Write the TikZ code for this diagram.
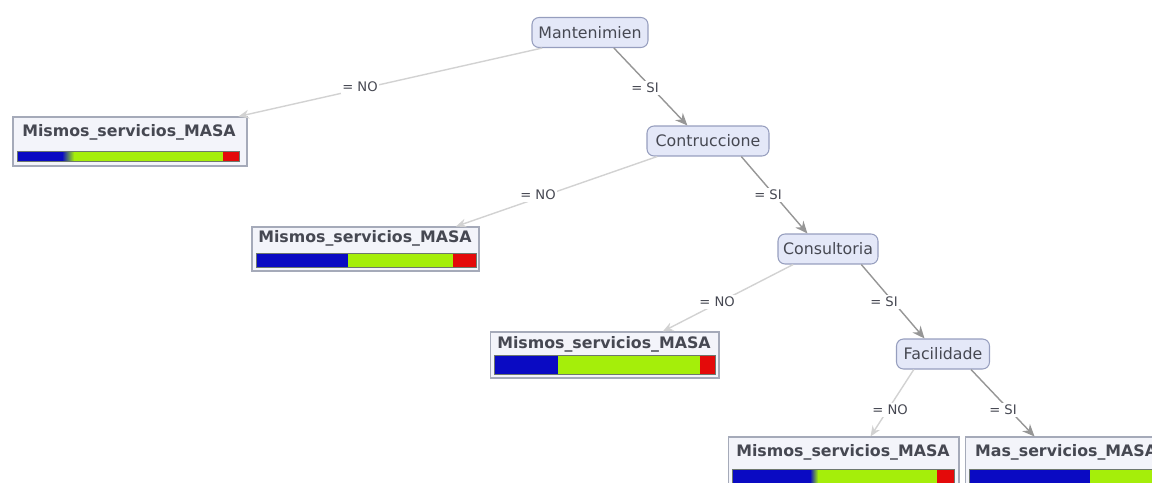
\documentclass[tikz,border=0pt]{standalone}
\usepackage{fontspec}
\setmainfont{DejaVu Sans}
\usetikzlibrary{arrows.meta}

\definecolor{testfill}{RGB}{228,232,248}
\definecolor{testline}{RGB}{150,158,190}
\definecolor{leaffill}{RGB}{243,244,250}
\definecolor{leafline}{RGB}{165,170,185}
\definecolor{siline}{RGB}{150,150,150}
\definecolor{noline}{RGB}{210,210,210}
\definecolor{textgray}{RGB}{70,72,82}
\definecolor{barblue}{RGB}{10,10,195}
\definecolor{barcyan}{RGB}{60,205,200}
\definecolor{bargreen}{RGB}{165,238,10}
\definecolor{barred}{RGB}{228,10,10}
\definecolor{barline}{RGB}{110,120,110}

\begin{document}
\begin{tikzpicture}[
  x=0.02cm, y=-0.02cm,
  every node/.style={inner sep=1pt},
  test/.style={draw=testline, fill=testfill, rounded corners=4pt, line width=0.6pt,
    minimum height=0.6cm, inner sep=0pt, text=textgray, font=\fontsize{9}{10}\selectfont},
  leaf/.style={draw=leafline, fill=leaffill, line width=0.6pt, inner sep=0pt},
  title/.style={text=textgray, font=\bfseries\fontsize{9}{10}\selectfont},
  cond/.style={fill=white, inner sep=1pt, text=textgray, font=\fontsize{7.5}{8}\selectfont},
  siedge/.style={draw=siline, line width=0.8pt, -{Stealth[length=7pt, width=6pt]}},
  noedge/.style={draw=noline, line width=0.8pt, -{Stealth[length=6pt, width=5pt]}},
  barframe/.style={draw=barline, line width=0.4pt}]

  \useasboundingbox (0,0) rectangle (1152,483);
  \clip (0,0) rectangle (1152,483);

  %% ---------------- tests ----------------
  \node[test, minimum width=2.32cm] (mant) at (590,32.5) {Mantenimien};
  \node[test, minimum width=2.44cm] (cont) at (708,141) {Contruccione};
  \node[test, minimum width=2.00cm] (cons) at (828,249) {Consultoria};
  \node[test, minimum width=1.86cm] (faci) at (943,354) {Facilidade};

  %% ---------------- leaves ----------------
  % leaf A
  \node[leaf, minimum width=4.68cm, minimum height=0.98cm] (leafA) at (130,141.5) {};
  \node[title] (titleA) at (129,132) {Mismos\_servicios\_MASA};
  \fill[barblue]  (17,151) rectangle (62,161);
  \shade[left color=barblue, middle color=barcyan, right color=bargreen] (62,151) rectangle (74,161);
  \fill[bargreen] (74,151) rectangle (223,161);
  \fill[barred]   (223,151) rectangle (239,161);
  \path[barframe] (17,151) rectangle (239,161);
  % leaf B
  \node[leaf, minimum width=4.54cm, minimum height=0.88cm] (leafB) at (365.5,249) {};
  \node[title] (titleB) at (365,238) {Mismos\_servicios\_MASA};
  \fill[barblue]  (256,253) rectangle (348,267);
  \fill[bargreen] (348,253) rectangle (453,267);
  \fill[barred]   (453,253) rectangle (476,267);
  \path[barframe] (256,253) rectangle (476,267);
  % leaf C
  \node[leaf, minimum width=4.58cm, minimum height=0.92cm] (leafC) at (604.5,355) {};
  \node[title] (titleC) at (604,344) {Mismos\_servicios\_MASA};
  \fill[barblue]  (494,355) rectangle (558,374);
  \fill[bargreen] (558,355) rectangle (700,374);
  \fill[barred]   (700,355) rectangle (715,374);
  \path[barframe] (494,355) rectangle (715,374);
  % leaf D
  \node[leaf, minimum width=4.62cm, minimum height=1.06cm] (leafD) at (843.5,463.5) {};
  \node[title] (titleD) at (843,452) {Mismos\_servicios\_MASA};
  \fill[barblue]  (732,469) rectangle (810,490);
  \shade[left color=barblue, middle color=barcyan, right color=bargreen] (810,469) rectangle (818,490);
  \fill[bargreen] (818,469) rectangle (937,490);
  \fill[barred]   (937,469) rectangle (954,490);
  \path[barframe] (732,469) rectangle (954,490);
  % leaf E (runs off the right edge)
  \node[leaf, minimum width=3.90cm, minimum height=1.06cm] (leafE) at (1062.5,463.5) {};
  \node[title, anchor=west] (titleE) at (973,452) {Mas\_servicios\_MASA};
  \fill[barblue]  (969,469) rectangle (1090,490);
  \fill[bargreen] (1090,469) rectangle (1160,490);
  \path[barframe] (969,469) rectangle (1160,490);

  %% ---------------- edges ----------------
  \draw[noedge] (mant.198) -- (leafA.13);
  \draw[siedge] (mant.-33) -- (cont.143);
  \draw[noedge] (cont.197) -- (leafB.14);
  \draw[siedge] (cont.-25) -- (cons.143);
  \draw[noedge] (cons.204) -- (leafC.22);
  \draw[siedge] (cons.-25) -- (faci.140);
  \draw[noedge] (faci.208) -- (leafD.45);
  \draw[siedge] (faci.-29) -- (leafE.136);

  %% ---------------- branch labels ----------------
  \node[cond] (nA) at (360,87)  {= NO};
  \node[cond] (sA) at (645,88)  {= SI};
  \node[cond] (nB) at (538,195) {= NO};
  \node[cond] (sB) at (768,195) {= SI};
  \node[cond] (nC) at (717,302) {= NO};
  \node[cond] (sC) at (884,302) {= SI};
  \node[cond] (nD) at (890,410) {= NO};
  \node[cond] (sD) at (1003,410) {= SI};

\end{tikzpicture}
\end{document}
